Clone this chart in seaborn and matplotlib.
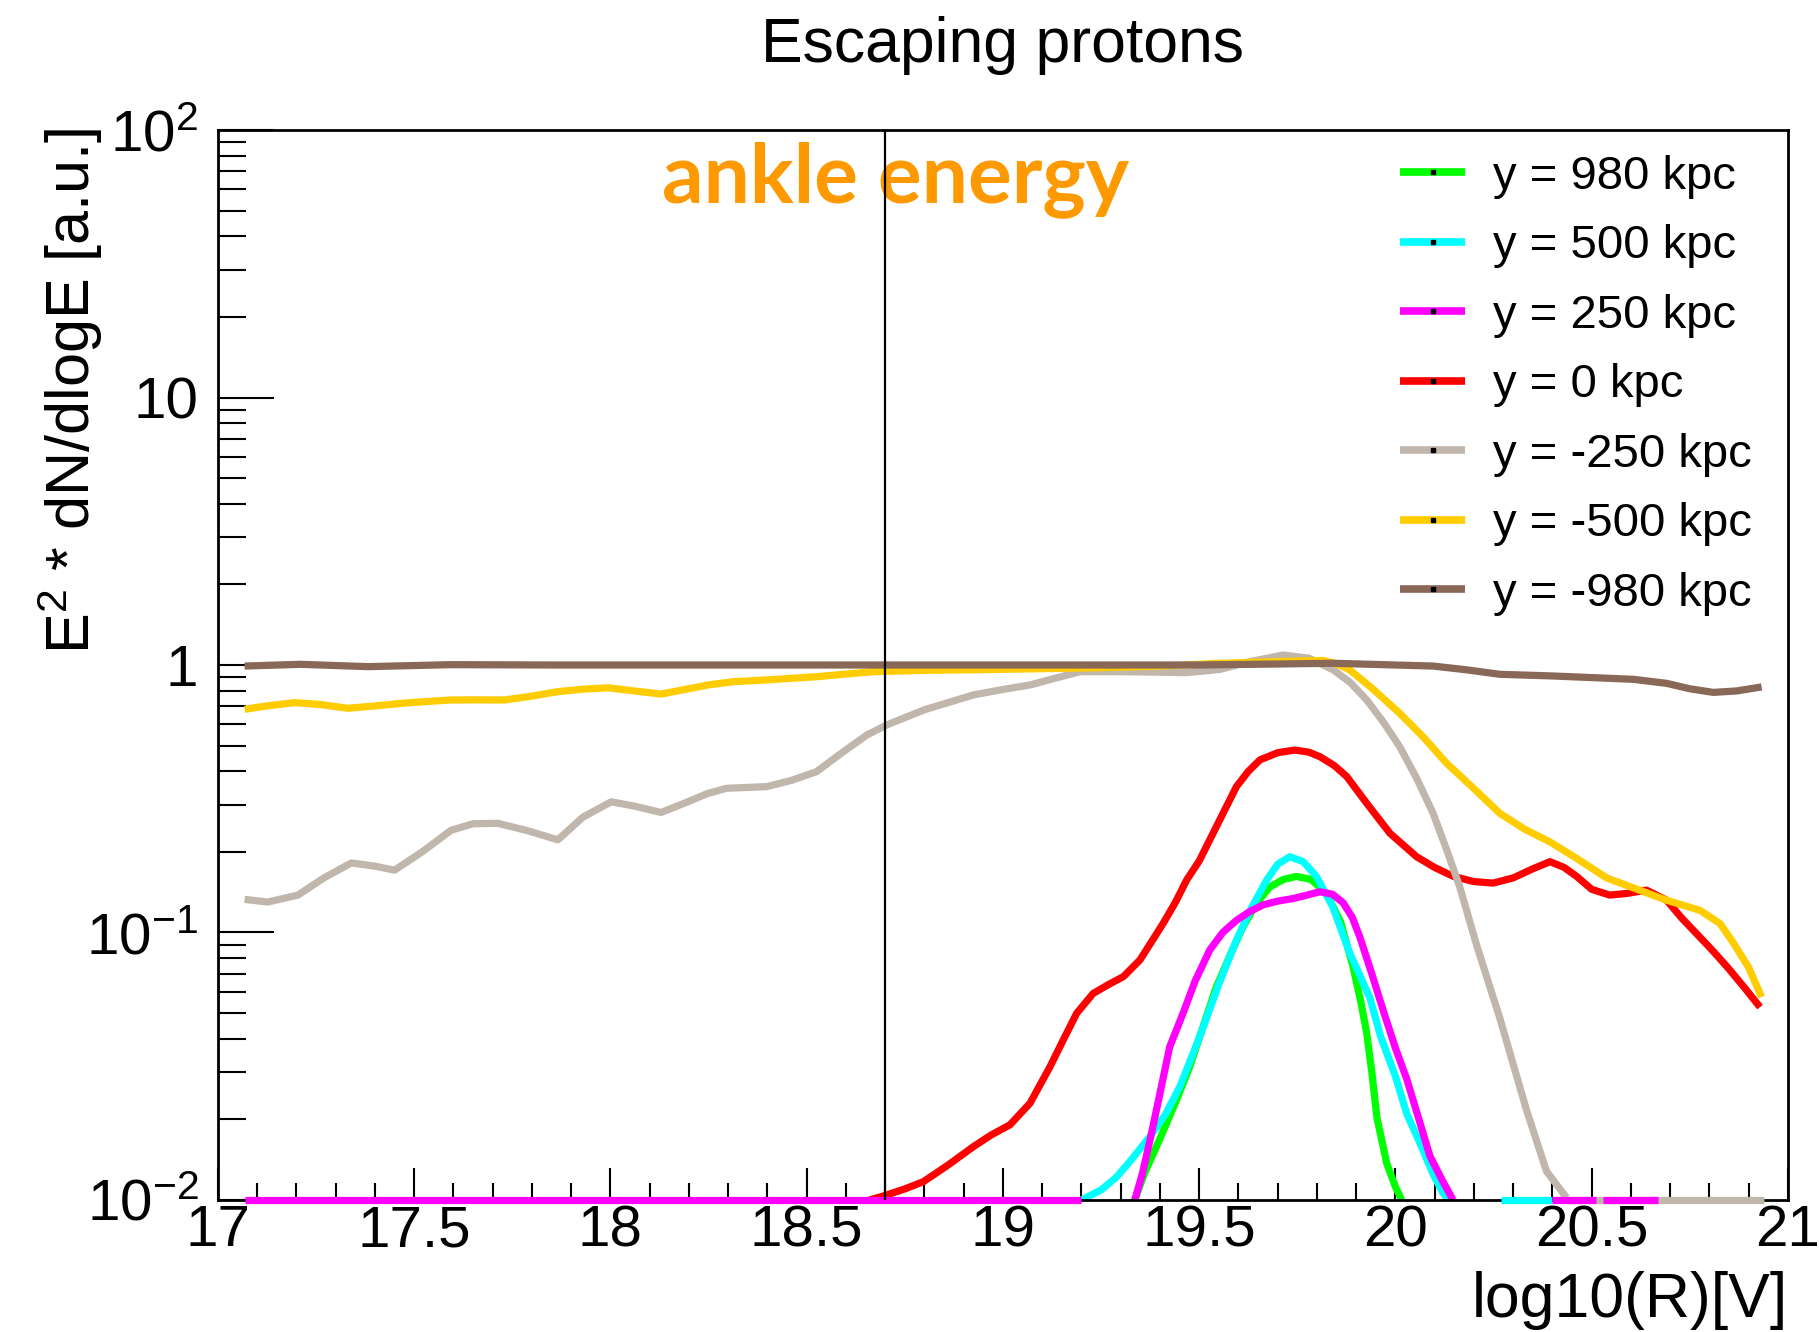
import numpy as np
import pandas as pd
import matplotlib
matplotlib.use('Agg')
import matplotlib.pyplot as plt
import seaborn as sns
from matplotlib.lines import Line2D
from matplotlib.ticker import FixedLocator, LogLocator, MultipleLocator, NullFormatter, FuncFormatter

# ---- data ----
curve_labels = ['y = 980 kpc', 'y = 500 kpc', 'y = 250 kpc', 'y = 0 kpc',
                'y = -250 kpc', 'y = -500 kpc', 'y = -980 kpc']
curve_colors = ['#00ff00', '#00ffff', '#ff00ff', '#ff0000', '#c0b6ac', '#ffcc00', '#8a6858']

green_x = [19.336, 19.36, 19.399, 19.44, 19.476, 19.51, 19.544, 19.58, 19.612, 19.645, 19.68, 19.715,
           19.748, 19.785, 19.824, 19.86, 19.892, 19.912, 19.927, 19.94, 19.953, 19.978, 20.0, 20.016]
green_y = [0.010, 0.0125, 0.0168, 0.0232, 0.0315, 0.0445, 0.0627, 0.083, 0.105, 0.128, 0.148, 0.158,
           0.162, 0.158, 0.140, 0.110, 0.0745, 0.055, 0.042, 0.030, 0.0203, 0.0137, 0.0112, 0.010]

cyan_x = [19.20, 19.25, 19.29, 19.33, 19.375, 19.415, 19.451, 19.48, 19.511, 19.55, 19.595, 19.635,
          19.672, 19.70, 19.731, 19.765, 19.799, 19.84, 19.884, 19.935, 19.962, 20.0, 20.029, 20.065,
          20.097, 20.12, 20.135]
cyan_y = [0.010, 0.0109, 0.0122, 0.0143, 0.0173, 0.021, 0.0266, 0.034, 0.0445, 0.064, 0.0937, 0.125,
          0.157, 0.180, 0.192, 0.184, 0.162, 0.125, 0.0836, 0.057, 0.041, 0.029, 0.021, 0.016,
          0.0124, 0.0107, 0.010]

magenta_x = [19.336, 19.355, 19.375, 19.40, 19.425, 19.459, 19.49, 19.527, 19.56, 19.595, 19.63, 19.664,
             19.70, 19.74, 19.775, 19.808, 19.84, 19.867, 19.89, 19.91, 19.94, 19.969, 20.0, 20.029,
             20.06, 20.088, 20.12, 20.147]
magenta_y = [0.010, 0.0125, 0.0168, 0.025, 0.0374, 0.0499, 0.066, 0.086, 0.100, 0.111, 0.120, 0.127,
             0.131, 0.134, 0.138, 0.142, 0.139, 0.129, 0.114, 0.0957, 0.070, 0.0511, 0.037, 0.0283,
             0.020, 0.0146, 0.0118, 0.010]

red_x = [18.66, 18.70, 18.75, 18.797, 18.86, 18.924, 18.97, 19.018, 19.069, 19.12, 19.155, 19.188,
         19.23, 19.27, 19.307, 19.349, 19.38, 19.408, 19.44, 19.468, 19.50, 19.544, 19.595, 19.625,
         19.655, 19.70, 19.744, 19.78, 19.808, 19.845, 19.876, 19.927, 19.986, 20.054, 20.10, 20.148,
         20.20, 20.249, 20.30, 20.35, 20.394, 20.43, 20.462, 20.50, 20.546, 20.59, 20.64, 20.691,
         20.73, 20.776, 20.81, 20.85, 20.89, 20.929]
red_y = [0.0100, 0.0104, 0.0110, 0.0117, 0.0135, 0.0158, 0.0175, 0.0191, 0.023, 0.0315, 0.040, 0.0499,
         0.0592, 0.064, 0.0684, 0.0789, 0.093, 0.108, 0.13, 0.157, 0.185, 0.249, 0.351, 0.40,
         0.442, 0.47, 0.481, 0.472, 0.454, 0.42, 0.383, 0.304, 0.235, 0.192, 0.175, 0.162,
         0.155, 0.153, 0.160, 0.173, 0.184, 0.175, 0.162, 0.145, 0.138, 0.140, 0.144, 0.132,
         0.113, 0.096, 0.085, 0.073, 0.062, 0.0526]

gray_x = [17.068, 17.127, 17.204, 17.27, 17.340, 17.40, 17.450, 17.52, 17.594, 17.65, 17.713, 17.79,
          17.866, 17.93, 18.002, 18.06, 18.129, 18.19, 18.248, 18.296, 18.398, 18.46, 18.525, 18.59,
          18.653, 18.704, 18.80, 18.925, 19.0, 19.069, 19.13, 19.197, 19.30, 19.40, 19.468, 19.553,
          19.63, 19.714, 19.78, 19.842, 19.885, 19.927, 19.97, 20.011, 20.055, 20.096, 20.13, 20.164,
          20.207, 20.266, 20.334, 20.385, 20.436]
gray_y = [0.133, 0.130, 0.138, 0.160, 0.182, 0.177, 0.171, 0.200, 0.241, 0.255, 0.256, 0.240,
          0.222, 0.270, 0.308, 0.297, 0.281, 0.305, 0.331, 0.346, 0.351, 0.370, 0.399, 0.470,
          0.547, 0.597, 0.680, 0.773, 0.810, 0.842, 0.890, 0.944, 0.944, 0.940, 0.936, 0.963,
          1.03, 1.09, 1.06, 0.958, 0.86, 0.74, 0.61, 0.495, 0.375, 0.279, 0.205, 0.148,
          0.0896, 0.0479, 0.0217, 0.0128, 0.0102]

yellow_x = [17.068, 17.13, 17.195, 17.26, 17.331, 17.40, 17.467, 17.53, 17.594, 17.66, 17.730, 17.80,
            17.866, 17.93, 17.994, 18.06, 18.129, 18.19, 18.248, 18.313, 18.40, 18.525, 18.60, 18.670,
            18.80, 18.992, 19.247, 19.40, 19.553, 19.70, 19.816, 19.85, 19.884, 19.94, 20.011, 20.07,
            20.130, 20.20, 20.266, 20.33, 20.394, 20.46, 20.538, 20.60, 20.691, 20.776, 20.827, 20.86,
            20.90, 20.933]
yellow_y = [0.683, 0.705, 0.723, 0.712, 0.689, 0.703, 0.719, 0.730, 0.740, 0.741, 0.740, 0.765,
            0.795, 0.812, 0.822, 0.800, 0.779, 0.810, 0.842, 0.866, 0.880, 0.904, 0.925, 0.944,
            0.955, 0.963, 0.977, 0.99, 1.015, 1.03, 1.04, 1.01, 0.958, 0.82, 0.66, 0.54,
            0.43, 0.345, 0.279, 0.243, 0.218, 0.190, 0.160, 0.148, 0.132, 0.121, 0.108, 0.092,
            0.074, 0.0574]

brown_x = [17.068, 17.211, 17.382, 17.594, 17.849, 18.0, 18.3, 18.6, 18.9, 19.2, 19.5, 19.842,
           20.096, 20.18, 20.266, 20.4, 20.606, 20.691, 20.75, 20.81, 20.87, 20.933]
brown_y = [0.991, 1.006, 0.986, 1.003, 1.0, 1.0, 1.0, 1.0, 1.0, 1.0, 1.0, 1.015,
           0.991, 0.96, 0.923, 0.91, 0.884, 0.854, 0.815, 0.79, 0.80, 0.828]

# empty bins, drawn on the lower edge of the frame (curve, start, end)
floor_segments = [('y = -250 kpc', 20.436, 20.94),
                  ('y = 500 kpc', 20.27, 20.40),
                  ('y = 250 kpc', 17.07, 19.20),
                  ('y = 250 kpc', 20.40, 20.51),
                  ('y = 250 kpc', 20.53, 20.67)]
floor_value = 0.01

ankle_x = 18.7

# ---- build tables ----
xs = [green_x, cyan_x, magenta_x, red_x, gray_x, yellow_x, brown_x]
ys = [green_y, cyan_y, magenta_y, red_y, gray_y, yellow_y, brown_y]
rows = []
for lab, x, y in zip(curve_labels, xs, ys):
    for xi, yi in zip(x, y):
        rows.append((lab, lab, xi, yi))
df = pd.DataFrame(rows, columns=['curve', 'seg', 'x', 'y'])

frows = []
for i, (lab, x0, x1) in enumerate(floor_segments):
    frows.append((lab, i, x0, floor_value))
    frows.append((lab, i, x1, floor_value))
df_floor = pd.DataFrame(frows, columns=['curve', 'seg', 'x', 'y'])

palette = dict(zip(curve_labels, curve_colors))

# ---- style ----
sns.set_style('ticks')
plt.rcParams['font.family'] = ['Liberation Sans', 'DejaVu Sans']
plt.rcParams['mathtext.fontset'] = 'custom'
plt.rcParams['mathtext.rm'] = 'Liberation Sans'
plt.rcParams['mathtext.it'] = 'Liberation Sans:italic'
plt.rcParams['mathtext.bf'] = 'Liberation Sans:bold'
plt.rcParams['text.color'] = 'black'
plt.rcParams['xtick.color'] = 'black'
plt.rcParams['ytick.color'] = 'black'
plt.rcParams['axes.labelcolor'] = 'black'

fig = plt.figure(figsize=(18.19, 13.32), dpi=100)
ax = fig.add_axes([0.1198, 0.0991, 0.8631, 0.8033])

sns.lineplot(data=df, x='x', y='y', hue='curve', hue_order=curve_labels, units='seg',
             estimator=None, sort=False, palette=palette, lw=5.2, legend=False, ax=ax)
n_before = len(ax.lines)
sns.lineplot(data=df_floor, x='x', y='y', hue='curve', units='seg',
             estimator=None, sort=False, palette=palette, lw=5.2, legend=False, ax=ax)
for ln in ax.lines[n_before:]:
    ln.set_clip_on(False)
    ln.set_zorder(3)
for ln in ax.lines:
    ln.set_solid_capstyle('butt')
    ln.set_solid_joinstyle('round')

ax.axvline(ankle_x, color='black', lw=1.6, zorder=5)
ax.text(18.727, 0.9327, 'ankle energy', transform=ax.get_xaxis_transform(),
        ha='center', va='baseline', color='#ff9900', fontsize=59,
        fontweight='bold', family=['Lato', 'DejaVu Sans'])

ax.set_yscale('log')
ax.set_xlim(17, 21)
ax.set_ylim(0.01, 100)

ax.yaxis.set_major_locator(FixedLocator([0.01, 0.1, 1, 10, 100]))
ax.set_yticklabels([r'$\mathregular{10^{-2}}$', r'$\mathregular{10^{-1}}$', '1', '10',
                    r'$\mathregular{10^{2}}$'])
ax.yaxis.set_minor_locator(LogLocator(base=10, subs=np.arange(2, 10), numticks=20))
ax.yaxis.set_minor_formatter(NullFormatter())
ax.xaxis.set_major_locator(MultipleLocator(0.5))
ax.xaxis.set_minor_locator(MultipleLocator(0.1))
ax.xaxis.set_major_formatter(FuncFormatter(lambda v, p: '%g' % v))

ax.tick_params(axis='y', which='major', direction='in', length=40, width=1.5, pad=14, labelsize=42,
               colors='black')
ax.tick_params(axis='y', which='minor', direction='in', length=20, width=1.5, colors='black')
ax.tick_params(axis='x', which='major', direction='in', length=23, width=1.5, pad=3, labelsize=42,
               colors='black')
ax.tick_params(axis='x', which='minor', direction='in', length=12, width=1.5, colors='black')
for s in ax.spines.values():
    s.set_linewidth(2)
    s.set_color('black')

ax.set_xlabel('')
ax.set_ylabel('')
fig.text(0.5514, 0.9535, 'Escaping protons', ha='center', va='baseline', fontsize=45, color='black')
fig.text(0.983, 0.0113, 'log10(R)[V]', ha='right', va='baseline', fontsize=45, color='black')
fig.text(0.0385, 0.904, r'$\mathregular{E^{2}}$ * dN/dlogE [a.u.]', rotation=90,
         ha='center', va='top', fontsize=44, color='black')

handles = [Line2D([0], [0], color=c, lw=5.5, marker='s', markersize=2.2,
                  markerfacecolor='black', markeredgecolor='black', solid_capstyle='butt')
           for c in curve_colors]
leg = ax.legend(handles, curve_labels, loc='upper left', bbox_to_anchor=(0.7529, 0.977),
                frameon=False, fontsize=34, handlelength=1.38, handletextpad=0.59,
                labelspacing=0.54, borderpad=0, borderaxespad=0, numpoints=1)
for t in leg.get_texts():
    t.set_color('black')

fig.savefig('out.png', dpi=100)
